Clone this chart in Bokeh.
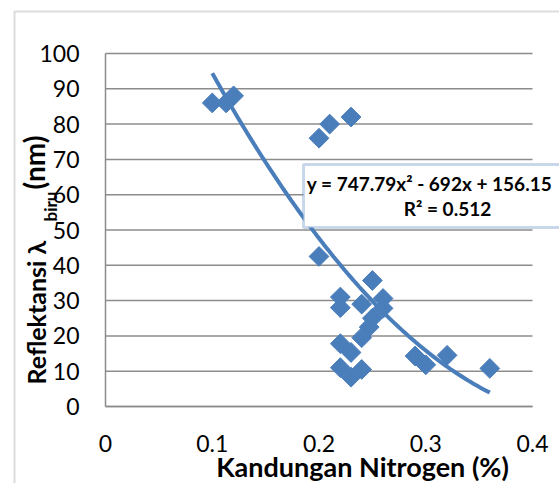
import numpy as np
from bokeh.plotting import figure
from bokeh.models import Label, BoxAnnotation, ColumnDataSource, FixedTicker, Range1d
from bokeh.embed import file_html
from bokeh.resources import INLINE

# Measured samples: nitrogen content (%) vs blue-band reflectance (nm)
nitrogen = [0.10, 0.113, 0.12, 0.20, 0.20, 0.21, 0.23, 0.25, 0.22, 0.22,
            0.24, 0.26, 0.26, 0.25, 0.247, 0.24, 0.22, 0.23, 0.22, 0.23,
            0.24, 0.29, 0.30, 0.32, 0.36]
reflectance = [86, 86, 88, 42.5, 76, 80, 82, 35.7, 31, 28,
               29, 30.6, 27.8, 25, 22.5, 19.5, 17.8, 15.3, 11, 8.3,
               10.5, 14.3, 11.8, 14.5, 10.8]

# Polynomial trendline (order 2) as reported
trend_coef = [747.79, -692.0, 156.15]
trend_span = [0.10, 0.36]
r_squared = 0.512

x_ticks = [0, 0.1, 0.2, 0.3, 0.4]
x_tick_labels = ["0", "0.1", "0.2", "0.3", "0.4"]
y_ticks = [0, 10, 20, 30, 40, 50, 60, 70, 80, 90, 100]

BLUE = "#4A7EBB"
GRID = "#8C8C8C"
FONT = "Lato"

W, H = 559, 483
# plot-area placement on the canvas (pixels)
PL, PR, PT, PB = 105, 532, 53, 406
kx = (PR - PL) / 0.4
ky = (PB - PT) / 100.0

# The frame fills the whole canvas; axes sit at fixed data locations so
# titles and the equation box can be drawn anywhere without clipping.
x_range = Range1d(-PL / kx, 0.4 + (W - PR) / kx)
y_range = Range1d(-(H - PB) / ky, 100 + PT / ky)

p = figure(width=W, height=H, x_range=x_range, y_range=y_range,
           output_backend="svg", toolbar_location=None,
           min_border=0, min_border_left=0, min_border_right=0,
           min_border_top=0, min_border_bottom=0)
p.background_fill_color = "white"
p.border_fill_color = "white"
p.outline_line_color = None
p.xgrid.grid_line_color = None
p.ygrid.grid_line_color = None

for ax in (p.xaxis, p.yaxis):
    ax.axis_line_color = GRID
    ax.axis_line_width = 1.5
    ax.major_tick_line_color = None
    ax.minor_tick_line_color = None
    ax.major_tick_out = 0
    ax.major_tick_in = 0
    ax.minor_tick_out = 0
    ax.minor_tick_in = 0
    ax.major_label_text_font = FONT
    ax.major_label_text_font_size = "23px"
    ax.major_label_text_color = "black"
    ax.fixed_location = 0

p.xaxis.bounds = (0, 0.4)
p.xaxis.ticker = FixedTicker(ticks=x_ticks)
p.xaxis.major_label_overrides = {t: s for t, s in zip(x_ticks, x_tick_labels)}
p.xaxis.major_label_standoff = 28
p.yaxis.bounds = (0, 100)
p.yaxis.ticker = FixedTicker(ticks=y_ticks)
p.yaxis.major_label_standoff = 26

# horizontal gridlines across the plot area
p.segment(x0=[0] * len(y_ticks), x1=[0.4] * len(y_ticks), y0=y_ticks, y1=y_ticks,
          line_color=GRID, line_width=1.5)

# scatter points as 45-degree squares
src = ColumnDataSource(dict(x=nitrogen, y=reflectance))
p.scatter("x", "y", source=src, marker="square", size=14, angle=np.pi / 4,
          fill_color=BLUE, line_color=BLUE, line_width=1)

# trendline
a, b, c = trend_coef
tx = np.linspace(trend_span[0], trend_span[1], 120)
ty = a * tx ** 2 + b * tx + c
p.line(tx, ty, line_color=BLUE, line_width=4)

# outer chart border
p.add_layout(BoxAnnotation(left=14, top=11, right=W + 50, bottom=H + 50,
                           left_units="canvas", right_units="canvas",
                           top_units="canvas", bottom_units="canvas",
                           fill_alpha=0, line_color=GRID, line_width=2))

# equation box
p.add_layout(BoxAnnotation(left=303, top=164, right=W + 50, bottom=227,
                           left_units="canvas", right_units="canvas",
                           top_units="canvas", bottom_units="canvas",
                           fill_color="white", fill_alpha=1, line_color=BLUE, line_width=3))


def canvas_label(text, cx, cy, size, bold=True, angle=0.0, align="center", baseline="middle"):
    # cx, cy in canvas pixels (y down); screen units run from the frame's bottom-left
    return Label(x=cx, y=H - cy, x_units="screen", y_units="screen", text=text,
                 text_font=FONT, text_font_size=size,
                 text_font_style="bold" if bold else "normal", text_color="black",
                 text_align=align, text_baseline=baseline, angle=angle)


p.add_layout(canvas_label("y = %.2fx\u00b2 - %dx + %.2f" % (a, -b, c), 429, 183, "19px"))
p.add_layout(canvas_label("R\u00b2 = %.3f" % r_squared, 447, 208, "19px"))

# axis titles
p.add_layout(canvas_label("Kandungan Nitrogen (%)", 362, 466, "27px"))
p.add_layout(canvas_label("Reflektansi \u03bb", 35, 384, "25px", angle=np.pi / 2,
                          align="left", baseline="alphabetic"))
p.add_layout(canvas_label("biru", 50, 221, "17px", angle=np.pi / 2,
                          align="left", baseline="alphabetic"))
p.add_layout(canvas_label("(nm)", 33, 189, "28px", angle=np.pi / 2,
                          align="left", baseline="alphabetic"))

open("out.html", "w").write(file_html(p, INLINE))
